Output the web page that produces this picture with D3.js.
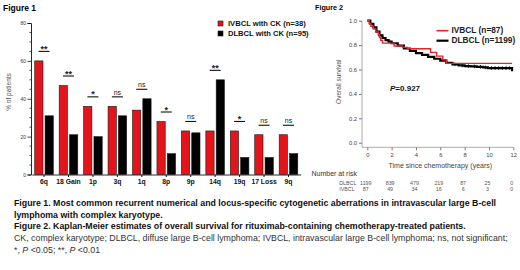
<!DOCTYPE html>
<html>
<head>
<meta charset="utf-8">
<script src="https://cdn.jsdelivr.net/npm/d3@7"></script>
<style>
  html, body { margin: 0; padding: 0; background: #fff; }
  svg { display: block; font-family: "Liberation Sans", Arial, sans-serif; }
</style>
</head>
<body>
<script>
// Figure 1: aberration frequencies (% of patients)
const categories = ["6q", "18 Gain", "1p", "3q", "1q", "8p", "9p", "14q", "19q", "17 Loss", "9q"];
const ivbclPct = [60, 47, 36, 36, 34, 28, 23, 23, 23, 21, 21];
const dlbclPct = [31, 21, 20, 31, 40, 11, 22, 50, 9, 9, 11];
const significance = ["**", "**", "*", "ns", "ns", "*", "ns", "**", "*", "ns", "ns"];
const barTicks = [0, 20, 40, 60, 80];
const barSeries = ["IVBCL with CK (n=38)", "DLBCL with CK (n=95)"];

// Figure 2: Kaplan-Meier step points
const ivbclTime = [0, 0.15, 0.3, 0.5, 0.7, 0.9, 1.0, 1.1, 1.25, 2.2, 2.9, 3.3, 5.2, 5.7, 6.2, 6.5, 11.9];
const ivbclSurv = [1.0, 0.977, 0.954, 0.931, 0.908, 0.885, 0.862, 0.839, 0.816, 0.793, 0.781, 0.77, 0.74, 0.71, 0.68, 0.65, 0.65];
const dlbclTime = [0, 0.25, 0.5, 0.75, 1.0, 1.25, 1.5, 1.75, 2.0, 2.5, 3.0, 3.5, 4.0, 4.5, 5.0, 5.5, 6.0, 6.5, 7.0, 7.5, 8.0, 8.5, 9.0, 9.5, 9.9, 11.9];
const dlbclSurv = [1.0, 0.975, 0.945, 0.91, 0.88, 0.858, 0.84, 0.828, 0.815, 0.795, 0.772, 0.752, 0.735, 0.72, 0.703, 0.688, 0.672, 0.655, 0.642, 0.633, 0.628, 0.625, 0.622, 0.617, 0.612, 0.585];
const dlbclCensor = [7.2, 7.8, 8.3, 8.8, 9.3, 9.7, 10.2, 10.5, 10.8, 11.1, 11.4, 11.7];
const kmYTicks = [0, 0.2, 0.4, 0.6, 0.8, 1.0];
const riskTimes = [0, 2, 4, 6, 8, 10, 12];
const riskDLBCL = [1199, 839, 479, 219, 87, 25, 0];
const riskIVBCL = [87, 49, 34, 16, 6, 3, 0];

const captionLines = [
  "Figure 1. Most common recurrent numerical and locus-specific cytogenetic aberrations in intravascular large B-cell",
  "lymphoma with complex karyotype.",
  "Figure 2.  Kaplan-Meier estimates of overall survival for rituximab-containing chemotherapy-treated patients.",
  "CK, complex karyotype; DLBCL, diffuse large B-cell lymphoma; IVBCL, intravascular large B-cell lymphoma; ns, not significant;"
];

const width = 520, height = 270;
const RED = "#e5141b", KMRED = "#e8242a";

const svg = d3.select("body").append("svg")
  .attr("width", width)
  .attr("height", height);

// ---------- Figure 1 ----------
svg.append("text")
  .attr("x", 3).attr("y", 10.5)
  .attr("font-size", 8.5).attr("font-weight", "bold")
  .text("Figure 1");

const x0 = d3.scaleBand().domain(categories).range([31.8, 300.7]);
const x1 = d3.scaleBand().domain(barSeries).range([0, 18.6]).paddingInner(0.2);
const yBar = d3.scaleLinear().domain([0, 80]).range([174.5, 23]);
const groupPad = (x0.bandwidth() - 18.6) / 2;

// y axis with minor ticks
const gy = svg.append("g").attr("transform", "translate(31,0)");
gy.call(d3.axisLeft(yBar).tickValues(barTicks).tickSize(3.5).tickPadding(1.5))
  .call(g => g.selectAll("text").attr("font-size", 5).attr("fill", "#333"))
  .call(g => g.select(".domain").attr("stroke", "#111").attr("stroke-width", 0.9))
  .call(g => g.selectAll(".tick line").attr("stroke", "#111").attr("stroke-width", 0.8));
gy.selectAll("line.minor")
  .data(d3.range(0, 81, 5).filter(v => v % 20 !== 0))
  .join("line")
  .attr("x1", -1.6).attr("x2", 0)
  .attr("y1", d => yBar(d)).attr("y2", d => yBar(d))
  .attr("stroke", "#111").attr("stroke-width", 0.7);

svg.append("text")
  .attr("transform", "translate(10.5,92) rotate(-90)")
  .attr("text-anchor", "middle")
  .attr("font-size", 6.5).attr("fill", "#555")
  .text("% of patients");

// x axis
const gx = svg.append("g").attr("transform", "translate(0,174.5)");
gx.call(d3.axisBottom(x0).tickSize(2.5).tickPadding(3).tickSizeOuter(0))
  .call(g => g.select(".domain").attr("stroke", "#111").attr("stroke-width", 0.9))
  .call(g => g.selectAll(".tick line").attr("stroke", "#111"))
  .call(g => g.selectAll("text").attr("font-size", 6.8).attr("font-weight", "bold").attr("fill", "#111").attr("dy", "0.6em"));

// bars
const barRows = categories.map((c, i) => ({ cat: c, vals: [ivbclPct[i], dlbclPct[i]], sig: significance[i] }));
const groups = svg.append("g").selectAll("g")
  .data(barRows)
  .join("g")
  .attr("transform", d => `translate(${x0(d.cat) + groupPad},0)`);

groups.selectAll("rect")
  .data(d => d.vals.map((v, j) => ({ s: barSeries[j], v })))
  .join("rect")
  .attr("x", d => x1(d.s))
  .attr("y", d => yBar(d.v))
  .attr("width", x1.bandwidth())
  .attr("height", d => yBar(0) - yBar(d.v))
  .attr("fill", (d, j) => j === 0 ? RED : "#000")
  .attr("stroke", "#1a1a1a")
  .attr("stroke-width", 0.6);

// significance markers
const sig = svg.append("g").selectAll("g")
  .data(barRows)
  .join("g")
  .attr("transform", d => `translate(${x0(d.cat) + x0.bandwidth() / 2},${yBar(d3.max(d.vals) + 5)})`);
sig.append("line")
  .attr("x1", -5.5).attr("x2", 5.5)
  .attr("stroke", "#111").attr("stroke-width", 1.1);
sig.append("text")
  .attr("text-anchor", "middle")
  .attr("y", d => d.sig === "ns" ? -2 : 0.5)
  .attr("font-size", d => d.sig === "ns" ? 7 : 9)
  .attr("font-weight", d => d.sig === "ns" ? "normal" : "bold")
  .attr("fill", "#222")
  .text(d => d.sig);

// legend
const leg1 = svg.append("g").selectAll("g")
  .data(barSeries)
  .join("g")
  .attr("transform", (d, i) => `translate(218,${21 + i * 10})`);
leg1.append("rect")
  .attr("width", 5).attr("height", 5)
  .attr("fill", (d, i) => i === 0 ? RED : "#000")
  .attr("stroke", "#1a1a1a").attr("stroke-width", 0.6);
leg1.append("text")
  .attr("x", 10).attr("y", 5)
  .attr("font-size", 7.6).attr("font-weight", "bold").attr("fill", "#111")
  .text(d => d);

// ---------- Figure 2 ----------
svg.append("text")
  .attr("x", 315).attr("y", 10)
  .attr("font-size", 7.2).attr("font-weight", "bold")
  .text("Figure 2");

const xKm = d3.scaleLinear().domain([0, 12]).range([367.3, 513.3]);
const yKm = d3.scaleLinear().domain([0, 1]).range([142.7, 20.7]);

svg.append("g").attr("transform", "translate(362,0)")
  .call(d3.axisLeft(yKm).tickValues(kmYTicks).tickFormat(d3.format(".1f")).tickSize(3).tickPadding(2).tickSizeOuter(0))
  .call(g => g.select(".domain").remove())
  .call(g => g.selectAll(".tick line").attr("stroke", "#777"))
  .call(g => g.selectAll("text").attr("font-size", 5.8).attr("fill", "#444"));

svg.append("g").attr("transform", "translate(0,147.3)")
  .call(d3.axisBottom(xKm).tickValues(riskTimes).tickSize(3).tickPadding(3).tickSizeOuter(0))
  .call(g => g.select(".domain").remove())
  .call(g => g.selectAll(".tick line").attr("stroke", "#777"))
  .call(g => g.selectAll("text").attr("font-size", 5.8).attr("fill", "#444"));

// L-shaped frame
svg.append("path")
  .attr("d", `M362,${yKm(1)}V147.3H${xKm(12)}`)
  .attr("fill", "none").attr("stroke", "#888").attr("stroke-width", 0.7);

svg.append("text")
  .attr("transform", `translate(340.5,${(yKm(0) + yKm(1)) / 2}) rotate(-90)`)
  .attr("text-anchor", "middle")
  .attr("font-size", 6.5).attr("fill", "#555")
  .text("Overall survival");

svg.append("text")
  .attr("x", (xKm(0) + xKm(12)) / 2).attr("y", 167.5)
  .attr("text-anchor", "middle")
  .attr("font-size", 7).attr("fill", "#444")
  .text("Time since chemotherapy (years)");

const step = d3.line().curve(d3.curveStepAfter).x(d => xKm(d[0])).y(d => yKm(d[1]));
const dlbclPts = dlbclTime.map((t, i) => [t, dlbclSurv[i]]);
const ivbclPts = ivbclTime.map((t, i) => [t, ivbclSurv[i]]);

svg.append("path")
  .attr("d", step(dlbclPts))
  .attr("fill", "none").attr("stroke", "#000").attr("stroke-width", 2.2);

const survAt = (pts, t) => pts.filter(p => p[0] <= t).pop()[1];
svg.append("g").selectAll("line")
  .data(dlbclCensor)
  .join("line")
  .attr("x1", d => xKm(d)).attr("x2", d => xKm(d))
  .attr("y1", d => yKm(survAt(dlbclPts, d)) - 1.8)
  .attr("y2", d => yKm(survAt(dlbclPts, d)) + 1.8)
  .attr("stroke", "#000").attr("stroke-width", 0.9);

svg.append("path")
  .attr("d", step(ivbclPts))
  .attr("fill", "none").attr("stroke", KMRED).attr("stroke-width", 1.4);

// KM legend
const kmLegend = [{ name: "IVBCL (n=87)", color: KMRED, w: 1.6 }, { name: "DLBCL (n=1199)", color: "#000", w: 2.2 }];
const leg2 = svg.append("g").selectAll("g")
  .data(kmLegend)
  .join("g")
  .attr("transform", (d, i) => `translate(436.5,${30.7 + i * 10})`);
leg2.append("line")
  .attr("x2", 12)
  .attr("stroke", d => d.color).attr("stroke-width", d => d.w);
leg2.append("text")
  .attr("x", 15).attr("y", 2.6)
  .attr("font-size", 8.3).attr("font-weight", "bold").attr("fill", "#222")
  .text(d => d.name);

const pTxt = svg.append("text")
  .attr("x", 390).attr("y", 91)
  .attr("font-size", 8).attr("font-weight", "bold").attr("fill", "#111");
pTxt.append("tspan").attr("font-style", "italic").text("P");
pTxt.append("tspan").text("=0.927");

// number at risk
svg.append("text")
  .attr("x", 311.5).attr("y", 176)
  .attr("font-size", 7).attr("fill", "#333")
  .text("Number at risk");

const riskRows = [{ name: "DLBCL", vals: riskDLBCL, y: 185 }, { name: "IVBCL", vals: riskIVBCL, y: 190.5 }];
const rr = svg.append("g").selectAll("g")
  .data(riskRows)
  .join("g")
  .attr("transform", d => `translate(0,${d.y})`)
  .attr("font-size", 5.3).attr("fill", "#555");
rr.append("text").attr("x", 339.3).text(d => d.name);
rr.selectAll("text.v")
  .data(d => d.vals.map((v, i) => ({ v, t: riskTimes[i] })))
  .join("text")
  .attr("class", "v")
  .attr("x", d => xKm(d.t) - 1.5)
  .attr("text-anchor", "middle")
  .text(d => d.v);

// ---------- captions ----------
// font size is fitted so that the longest bold / regular lines span the same width as in the figure
const cap = svg.append("g");
const capY = [205.5, 217.5, 229, 241, 253];
const capText = captionLines.map((line, i) => cap.append("text")
  .attr("x", 14).attr("y", capY[i])
  .attr("font-size", 10)
  .attr("font-weight", i < 3 ? "bold" : "normal")
  .attr("fill", i < 3 ? "#111" : "#333")
  .text(line));
const boldSize = 10 * 483 / capText[0].node().getComputedTextLength();
const regSize = 10 * 494 / capText[3].node().getComputedTextLength();
capText.forEach((t, i) => t.attr("font-size", i < 3 ? boldSize : regSize));

const last = cap.append("text")
  .attr("x", 14).attr("y", capY[4])
  .attr("font-size", regSize).attr("fill", "#333");
last.append("tspan").text("*, ");
last.append("tspan").attr("font-style", "italic").text("P");
last.append("tspan").text(" <0.05; **, ");
last.append("tspan").attr("font-style", "italic").text("P");
last.append("tspan").text(" <0.01");
</script>
</body>
</html>
